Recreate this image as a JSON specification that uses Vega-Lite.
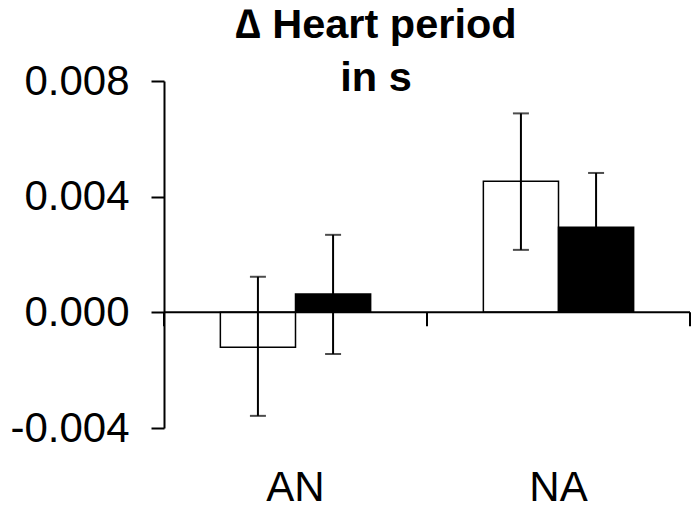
{
  "$schema": "https://vega.github.io/schema/vega-lite/v6.json",
  "width": 526,
  "height": 347,
  "autosize": {"type": "none"},
  "padding": {"left": 164, "top": 81, "right": 3, "bottom": 84},
  "background": "white",
  "config": {"view": {"stroke": null}, "font": "Liberation Sans"},
  "title": {
    "text": ["∆ Heart period", "in s"],
    "font": "Liberation Sans",
    "fontSize": 41.5,
    "fontWeight": "bold",
    "lineHeight": 53,
    "color": "black",
    "anchor": "middle",
    "dx": -51,
    "offset": -39
  },
  "datasets": {
    "bars": [
      {"group": "AN", "cond": "open", "value": -0.00121, "lo": -0.00358, "hi": 0.00123},
      {"group": "AN", "cond": "filled", "value": 0.00063, "lo": -0.00144, "hi": 0.00268},
      {"group": "NA", "cond": "open", "value": 0.00453, "lo": 0.00216, "hi": 0.00688},
      {"group": "NA", "cond": "filled", "value": 0.00294, "lo": 0.00106, "hi": 0.00482}
    ],
    "groups": [{"group": "AN"}, {"group": "NA"}]
  },
  "layer": [
    {
      "data": {"name": "bars"},
      "mark": {"type": "bar", "stroke": "black", "strokeWidth": 1.5},
      "encoding": {
        "x": {
          "field": "group", "type": "nominal",
          "scale": {"domain": ["AN", "NA"], "paddingInner": 0, "paddingOuter": 0},
          "axis": {
            "title": null, "domain": false, "ticks": false, "labelAngle": 0,
            "labelFont": "Liberation Sans", "labelFontSize": 42, "labelColor": "black",
            "labelPadding": 39
          }
        },
        "xOffset": {
          "field": "cond", "type": "nominal",
          "scale": {"domain": ["open", "filled"], "paddingInner": 0, "paddingOuter": 0.75}
        },
        "y": {
          "field": "value", "type": "quantitative",
          "scale": {"domain": [-0.004, 0.008], "nice": false, "zero": false},
          "axis": {
            "title": null, "grid": false,
            "values": [-0.004, 0, 0.004, 0.008],
            "labelExpr": "datum.value < 0 ? '-' + format(-datum.value, '.3f') : format(datum.value, '.3f')",
            "labelFont": "Liberation Sans", "labelFontSize": 42, "labelColor": "black",
            "labelPadding": 22,
            "domainColor": "black", "domainWidth": 2,
            "tickColor": "black", "tickWidth": 2, "tickSize": 13
          }
        },
        "fill": {
          "field": "cond", "type": "nominal",
          "scale": {"domain": ["open", "filled"], "range": ["white", "black"]},
          "legend": null
        }
      }
    },
    {
      "data": {"values": [{}]},
      "mark": {"type": "rule", "color": "black", "strokeWidth": 2},
      "encoding": {"y": {"datum": 0}}
    },
    {
      "data": {"name": "groups"},
      "mark": {"type": "rule", "color": "black", "strokeWidth": 2},
      "encoding": {
        "x": {"field": "group", "type": "nominal", "bandPosition": 0},
        "y": {"datum": 0},
        "y2": {"datum": -0.00048}
      }
    },
    {
      "data": {"values": [{}]},
      "mark": {"type": "rule", "color": "black", "strokeWidth": 2},
      "encoding": {
        "x": {"datum": "NA", "bandPosition": 1},
        "y": {"datum": 0},
        "y2": {"datum": -0.00048}
      }
    },
    {
      "data": {"name": "bars"},
      "mark": {"type": "rule", "color": "black", "strokeWidth": 2},
      "encoding": {
        "x": {"field": "group", "type": "nominal"},
        "xOffset": {"field": "cond", "type": "nominal"},
        "y": {"field": "lo", "type": "quantitative"},
        "y2": {"field": "hi"}
      }
    },
    {
      "data": {"name": "bars"},
      "mark": {"type": "tick", "color": "black", "thickness": 2, "size": 16},
      "encoding": {
        "x": {"field": "group", "type": "nominal"},
        "xOffset": {"field": "cond", "type": "nominal"},
        "y": {"field": "lo", "type": "quantitative"}
      }
    },
    {
      "data": {"name": "bars"},
      "mark": {"type": "tick", "color": "black", "thickness": 2, "size": 16},
      "encoding": {
        "x": {"field": "group", "type": "nominal"},
        "xOffset": {"field": "cond", "type": "nominal"},
        "y": {"field": "hi", "type": "quantitative"}
      }
    }
  ]
}
